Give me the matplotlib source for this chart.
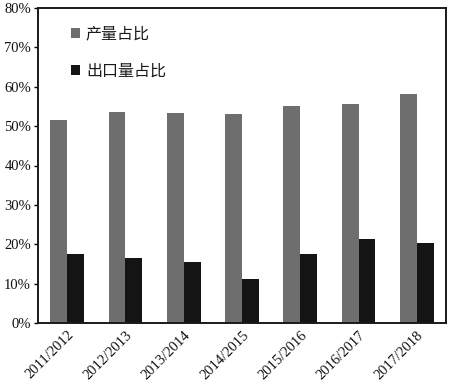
import numpy as np
import matplotlib.pyplot as plt
from matplotlib.ticker import FuncFormatter

seasons = ['2011/2012', '2012/2013', '2013/2014', '2014/2015',
           '2015/2016', '2016/2017', '2017/2018']
output_share = [51.6, 53.6, 53.3, 53.2, 55.1, 55.5, 58.2]
export_share = [17.4, 16.4, 15.4, 11.3, 17.5, 21.3, 20.2]

fig = plt.figure(figsize=(4.5, 3.86), dpi=100)
ax = fig.add_axes([38/450, 1-323/386, 408/450, 315/386])

x = np.arange(len(seasons))
w = 0.29
ax.bar(x - w/2, output_share, w, color='#6e6e6e', label='产量占比')
ax.bar(x + w/2, export_share, w, color='#141414', label='出口量占比')

ax.set_xlim(-0.5, len(seasons) - 0.5)
ax.set_ylim(0, 80)
ax.set_yticks(range(0, 81, 10))
ax.yaxis.set_major_formatter(FuncFormatter(lambda v, p: '%d%%' % v))
ax.set_xticks(x)
ax.set_xticklabels(seasons, rotation=45, ha='right', rotation_mode='anchor')
for lab in ax.get_xticklabels() + ax.get_yticklabels():
    lab.set_family('Liberation Serif')
    lab.set_fontsize(10.5)
    lab.set_color('#111111')
ax.tick_params(axis='y', length=3, width=1, pad=2)
ax.tick_params(axis='x', length=0, pad=4)
for s in ax.spines.values():
    s.set_linewidth(1.4)
    s.set_color('#1a1a1a')

leg = ax.legend(loc='upper left', bbox_to_anchor=(0.045, 0.99), frameon=False,
                prop={'family': 'Noto Sans CJK SC', 'size': 11.5},
                handlelength=0.55, handleheight=0.55, handletextpad=0.4,
                labelspacing=1.25)
for t in leg.get_texts():
    t.set_color('#1a1a1a')

fig.savefig('out.png', dpi=100)
